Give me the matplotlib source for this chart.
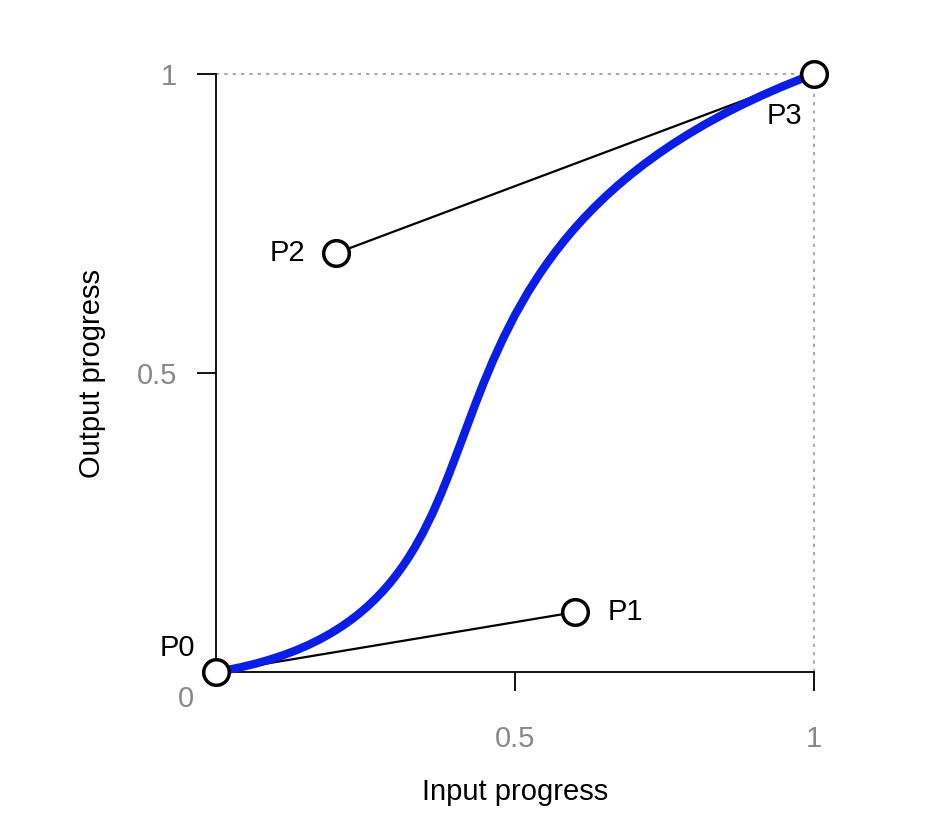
import matplotlib
matplotlib.use("Agg")
import matplotlib.pyplot as plt
from matplotlib.path import Path
from matplotlib.patches import PathPatch

plt.rcParams["font.family"] = "Liberation Sans"

point_names = ["P0", "P1", "P2", "P3"]
point_x = [0.0, 0.6, 0.2, 1.0]
point_y = [0.0, 0.1, 0.7, 1.0]
tick_vals = [0.5, 1]
tick_labels = ["0.5", "1"]

fig = plt.figure(figsize=(9.5, 8.18), dpi=100)
ax = fig.add_axes([216/950, 146/818, 598/950, 598/818])
ax.set_xlim(0, 1)
ax.set_ylim(0, 1)
for s in ["top", "right"]:
    ax.spines[s].set_visible(False)
for s in ["left", "bottom"]:
    ax.spines[s].set_linewidth(1.3)

ax.plot([0, 1], [1, 1], ls=(0, (2, 3)), color="#999999", lw=1.2, clip_on=False)
ax.plot([1, 1], [0, 1], ls=(0, (2, 3)), color="#999999", lw=1.2, clip_on=False)

ax.plot([point_x[0], point_x[1]], [point_y[0], point_y[1]], color="black", lw=1.6, zorder=3)
ax.plot([point_x[3], point_x[2]], [point_y[3], point_y[2]], color="black", lw=1.6, zorder=3)

verts = list(zip(point_x, point_y))
path = Path(verts, [Path.MOVETO, Path.CURVE4, Path.CURVE4, Path.CURVE4])
ax.add_patch(PathPatch(path, facecolor="none", edgecolor="#0a1ee6", lw=6, zorder=4,
                       capstyle="round", clip_on=False))

ax.scatter(point_x, point_y, s=340, facecolor="white", edgecolor="black", linewidth=2.5,
           zorder=5, clip_on=False)

offsets = {"P0": (-0.065, 0.04, "center"), "P1": (0.055, 0.0, "left"),
           "P2": (-0.05, 0.0, "right"), "P3": (-0.05, -0.07, "center")}
for n, x, y in zip(point_names, point_x, point_y):
    dx, dy, ha = offsets[n]
    ax.text(x + dx, y + dy, n, fontsize=21, ha=ha, va="center", zorder=6)

ax.set_xticks(tick_vals)
ax.set_xticklabels(tick_labels)
ax.set_yticks(tick_vals)
ax.set_yticklabels(tick_labels)
ax.tick_params(length=14, width=1.3, labelsize=21, labelcolor="#888888")
ax.tick_params(axis="x", pad=24)
ax.tick_params(axis="y", pad=14)
ax.text(-0.05, -0.045, "0", fontsize=21, color="#888888", ha="center", va="center",
        transform=ax.transAxes)

ax.set_xlabel("Input progress", fontsize=21, labelpad=18)
ax.set_ylabel("Output progress", fontsize=21, labelpad=22)

fig.savefig("out.png", dpi=100)
